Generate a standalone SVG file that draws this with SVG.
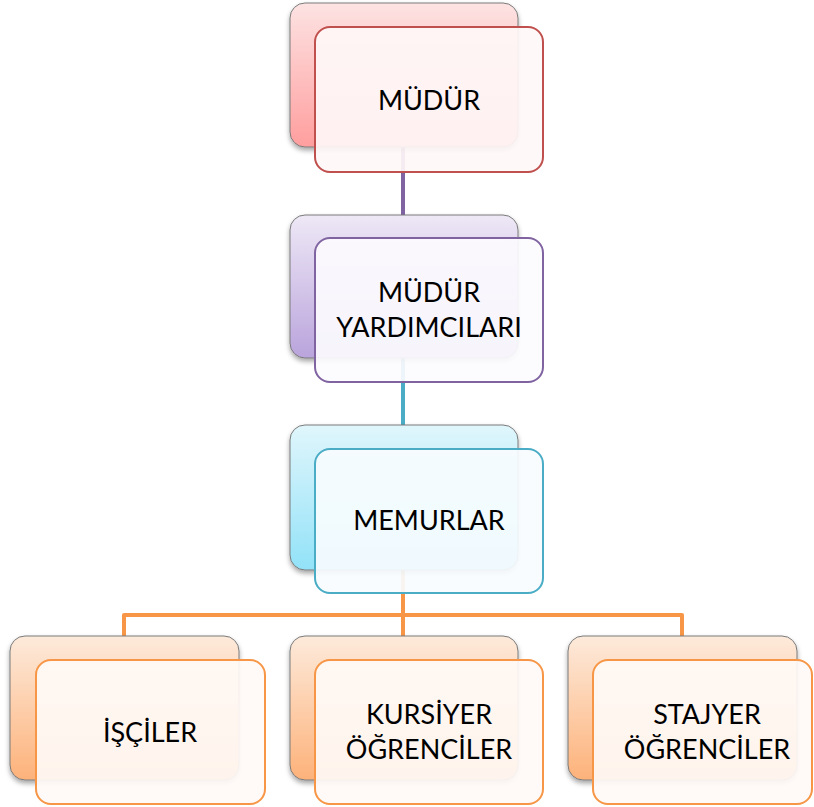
<svg xmlns="http://www.w3.org/2000/svg" width="814" height="807" viewBox="0 0 814 807">
<defs>
<style>
.back{stroke:#7a7a7a;stroke-width:1;filter:url(#sh)}
.front{fill-opacity:0.92;stroke-width:2}
.t{font-family:Lato,"Liberation Sans",sans-serif;font-size:27px;fill:#000;text-anchor:middle}
.c{fill:none;stroke-width:4;stroke-linejoin:round}
</style>
<filter id="sh" x="-10%" y="-10%" width="120%" height="130%">
<feDropShadow dx="0" dy="3" stdDeviation="2.5" flood-color="#000" flood-opacity="0.35"/>
</filter>
<linearGradient id="gr" x1="0" y1="0" x2="0" y2="1"><stop offset="0" stop-color="#fde3e3"/><stop offset="1" stop-color="#ff9e9e"/></linearGradient>
<linearGradient id="gp" x1="0" y1="0" x2="0" y2="1"><stop offset="0" stop-color="#eee8f6"/><stop offset="1" stop-color="#baa4dc"/></linearGradient>
<linearGradient id="gt" x1="0" y1="0" x2="0" y2="1"><stop offset="0" stop-color="#e0f6fc"/><stop offset="1" stop-color="#92e2f8"/></linearGradient>
<linearGradient id="go" x1="0" y1="0" x2="0" y2="1"><stop offset="0" stop-color="#fdeadb"/><stop offset="1" stop-color="#fdb27a"/></linearGradient>
</defs>
<rect width="814" height="807" fill="#fff"/>
<g id="connectors">
<path class="c" stroke="#8064a2" d="M403 147 V215"/>
<path class="c" stroke="#4bacc6" d="M403 358 V425"/>
<path class="c" stroke="#f79646" d="M403 570 V636"/>
<path class="c" stroke="#f79646" d="M403 615 H124 V636"/>
<path class="c" stroke="#f79646" d="M403 615 H682 V636"/>
</g>
<g id="mudur">
<rect class="back" x="290" y="3" width="228" height="144" rx="15" fill="url(#gr)"/>
<rect class="front" x="315" y="27" width="228" height="145" rx="15" fill="#fff7f7" stroke="#c0504d"/>
<text class="t" x="429" y="110">MÜDÜR</text>
</g>
<g id="mudur-yardimcilari">
<rect class="back" x="290" y="215" width="228" height="143" rx="15" fill="url(#gp)"/>
<rect class="front" x="315" y="238" width="228" height="144" rx="15" fill="#fcfbfe" stroke="#8064a2"/>
<text class="t" x="429" y="302">MÜDÜR</text>
<text class="t" x="429" y="337">YARDIMCILARI</text>
</g>
<g id="memurlar">
<rect class="back" x="290" y="425" width="228" height="145" rx="15" fill="url(#gt)"/>
<rect class="front" x="315" y="449" width="228" height="144" rx="15" fill="#f7fcfe" stroke="#4bacc6"/>
<text class="t" x="429" y="530">MEMURLAR</text>
</g>
<g id="isciler">
<rect class="back" x="10" y="636" width="229" height="144" rx="15" fill="url(#go)"/>
<rect class="front" x="36" y="660" width="229" height="144" rx="15" fill="#fffaf6" stroke="#f79646"/>
<text class="t" x="150" y="742">İŞÇİLER</text>
</g>
<g id="kursiyer">
<rect class="back" x="290" y="636" width="228" height="144" rx="15" fill="url(#go)"/>
<rect class="front" x="315" y="660" width="228" height="144" rx="15" fill="#fffaf6" stroke="#f79646"/>
<text class="t" x="429" y="724">KURSİYER</text>
<text class="t" x="429" y="759">ÖĞRENCİLER</text>
</g>
<g id="stajyer">
<rect class="back" x="568" y="636" width="229" height="144" rx="15" fill="url(#go)"/>
<rect class="front" x="593" y="660" width="219" height="144" rx="15" fill="#fffaf6" stroke="#f79646"/>
<text class="t" x="707" y="724">STAJYER</text>
<text class="t" x="707" y="759">ÖĞRENCİLER</text>
</g>
</svg>
